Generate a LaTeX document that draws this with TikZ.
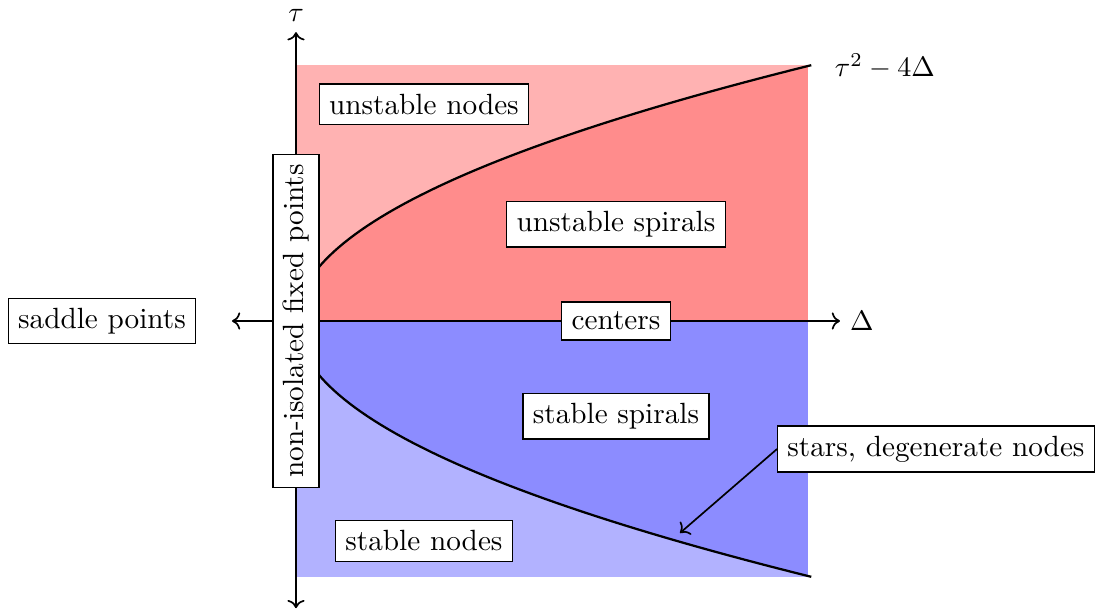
\documentclass[tikz,border=0pt]{standalone}
\usetikzlibrary{arrows.meta}

\begin{document}
\begin{tikzpicture}[
  font=\fontsize{10.4}{12.5}\selectfont,
  lbl/.style={draw, fill=white, inner sep=3.5pt},
  axis/.style={<->, semithick},
  branch/.style={thick},
]
\useasboundingbox (-3.7,-3.6375) rectangle (10.0,4.0125);

% --- shaded regions of the trace-determinant plane ---
\fill[red!30]  (0,0) rectangle (6.4,3.2);
\fill[blue!30] (0,0) rectangle (6.4,-3.2);
\begin{scope}
  \clip (0,-3.2) rectangle (6.4,3.2);
  \fill[red!45]  plot[domain=0:1, samples=60, variable=\t] ({6.45*\t*\t},{3.2*\t}) -- (6.45,0) -- cycle;
  \fill[blue!45] plot[domain=0:1, samples=60, variable=\t] ({6.45*\t*\t},{-3.2*\t}) -- (6.45,0) -- cycle;
\end{scope}

% --- parabola branches ---
\draw[branch] plot[domain=0:1, samples=60, variable=\t] ({6.45*\t*\t},{3.2*\t}) coordinate (top);
\draw[branch] plot[domain=0:1, samples=60, variable=\t] ({6.45*\t*\t},{-3.2*\t});
\node (parab) at (7.36,3.18) {$\tau^2-4\Delta$};

% --- axes ---
\coordinate (xl) at (-0.8,0);
\coordinate (xr) at (6.8,0);
\coordinate (yb) at (0,-3.59);
\coordinate (yt) at (0,3.61);
\draw[axis] (xl) -- (xr) node[right] (dlt) {$\Delta$};
\draw[axis] (yb) -- (yt) node[above] (tau) {$\tau$};

% --- region labels ---
\node[lbl] (unodes)   at (1.6,2.71)  {unstable nodes};
\node[lbl] (uspirals) at (4.0,1.21)  {unstable spirals};
\node[lbl] (centers)  at (4.0,0)     {centers};
\node[lbl] (sspirals) at (4.0,-1.19) {stable spirals};
\node[lbl] (snodes)   at (1.6,-2.75) {stable nodes};
\node[lbl] (saddle)   at (-2.425,0)  {saddle points};
\node[lbl, rotate=90] (noniso) at (0,0) {non-isolated fixed points};
\node[lbl] (stars)    at (8.0,-1.6)  {stars, degenerate nodes};

% arrow onto the lower branch
\coordinate (degen) at (4.8,-2.65);
\draw[->, semithick] (stars.west) -- (degen);

\end{tikzpicture}
\end{document}
